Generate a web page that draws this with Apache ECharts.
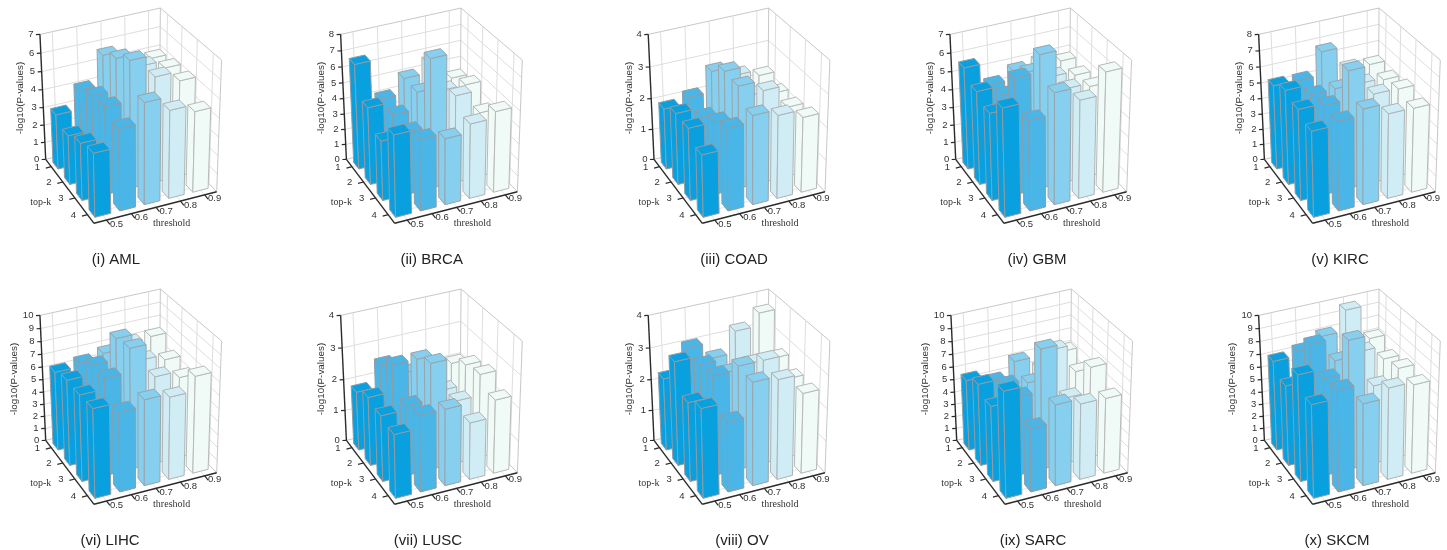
<!DOCTYPE html>
<html><head><meta charset="utf-8">
<style>html,body{margin:0;padding:0;background:#fff}#main{width:1447px;height:550px;filter:blur(0.4px)}</style>
<script src="https://cdn.jsdelivr.net/npm/echarts@6/dist/echarts.min.js"></script>
</head><body><div id="main"></div>
<script>
const thresholds = ['0.5','0.6','0.7','0.8','0.9'];
const topK = [1,2,3,4];
const panelTitles = ['(i) AML','(ii) BRCA','(iii) COAD','(iv) GBM','(v) KIRC','(vi) LIHC','(vii) LUSC','(viii) OV','(ix) SARC','(x) SKCM'];
const zMaxes = [7,8,4,7,8,10,4,4,10,10];
// each row: one top-k; each column: one threshold
const valuesAML  = [[3.1,4.16,5.75,5.0,5.0],[2.75,4.6,6.3,5.6,5.2],[3.18,4.8,6.9,5.76,5.25],[3.5,4.47,5.5,4.78,4.4]];
const valuesBRCA = [[6.69,4.18,5.14,5.75,4.47],[4.9,4.09,5.15,4.9,4.9],[3.77,3.95,8.0,5.45,4.05],[5.1,4.46,4.13,4.65,5.03]];
const valuesCOAD = [[1.96,2.15,2.79,2.5,2.32],[2.27,1.97,3.21,2.3,2.19],[2.28,2.28,3.19,2.88,2.2],[1.95,2.57,2.76,2.58,2.34]];
const valuesGBM  = [[5.67,4.45,4.92,5.08,4.86],[5.15,4.66,5.56,5.03,4.81],[4.78,6.3,7.2,5.13,4.95],[5.85,4.89,6.0,5.31,6.45]];
const valuesKIRC = [[5.38,5.35,6.79,5.43,5.33],[5.96,5.33,5.36,5.33,5.22],[5.7,5.56,7.29,5.55,5.51],[5.32,5.53,5.9,5.26,5.23]];
const valuesLIHC = [[6.29,6.56,6.9,7.27,7.37],[6.77,7.46,9.06,7.0,6.6],[6.78,7.6,9.36,6.81,6.31],[6.92,6.2,6.66,6.4,7.5]];
const valuesLUSC = [[1.89,2.57,2.15,2.0,2.1],[2.18,3.0,3.0,1.86,2.48],[2.08,2.2,3.3,1.98,2.62],[1.99,2.38,2.38,1.78,2.29]];
const valuesOV   = [[2.31,3.1,2.61,3.28,3.67],[3.27,3.0,2.59,2.7,2.69],[2.48,3.11,3.22,3.22,2.49],[2.77,2.18,3.18,3.08,2.49]];
const valuesSARC = [[5.64,5.12,6.26,5.25,6.2],[6.46,5.96,5.69,7.8,5.68],[5.91,6.15,9.31,5.2,7.09],[8.19,4.96,6.28,5.89,5.85]];
const valuesSKCM = [[7.14,7.48,8.22,9.8,7.21],[6.34,9.05,7.38,7.66,6.66],[8.28,7.53,9.95,6.12,7.01],[7.21,7.85,6.36,7.08,6.87]];
const allValues = [valuesAML,valuesBRCA,valuesCOAD,valuesGBM,valuesKIRC,valuesLIHC,valuesLUSC,valuesOV,valuesSARC,valuesSKCM];

const colors = ['#08A0DF','#4AB6E7','#86CFEE','#D0ECF4','#F0FAF6'];
const strokes = ['#8f9ca6','#8f9ca6','#9aa5ab','#b0b4b6','#b8bab8'];
const offX = [0,300.7,608.3,910,1218.7,0,300.7,608.3,911,1218.7];
const offY = [0,0,0,0,0,281,281,281,281,281];
const titleX = [116,431.7,734,1037,1340,110,428,742,1033,1337];
const titleY = [261,261,261,261,261,541.5,541.5,541.5,541.5,541.5];

// camera: base corners of the box (panel i), unit cube -> screen
const C = {L:[45.7,159.3],B:[159.3,131.7],R:[216.7,191.7],F:[94,223.3],LT:[40,31.7],BT:[159.3,10.7],RT:[222.7,60]};
function buildCamera(){
  const [x0,y0]=C.L,[x1,y1]=C.B,[x2,y2]=C.R,[x3,y3]=C.F;
  const dx1=x1-x2,dx2=x3-x2,sx=x0-x1+x2-x3,dy1=y1-y2,dy2=y3-y2,sy=y0-y1+y2-y3;
  const den=dx1*dy2-dx2*dy1;
  const g=(sx*dy2-dx2*sy)/den,h=(dx1*sy-sx*dy1)/den;
  const a=x1-x0+g*x1,b=x3-x0+h*x3,c=x0,d=y1-y0+g*y1,e=y3-y0+h*y3,f=y0;
  const rows=[];
  [[0,0,C.LT],[1,0,C.BT],[1,1,C.RT]].forEach(([u,v,p])=>{
    const hx=a*u+b*v+c,hy=d*u+e*v+f,hw=g*u+h*v+1;
    rows.push([1,0,-p[0],p[0]*hw-hx]);
    rows.push([0,1,-p[1],p[1]*hw-hy]);
  });
  // normal equations for the vertical column
  const N=[[0,0,0,0],[0,0,0,0],[0,0,0,0]];
  rows.forEach(r=>{for(let i=0;i<3;i++){for(let j=0;j<3;j++)N[i][j]+=r[i]*r[j];N[i][3]+=r[i]*r[3];}});
  for(let i=0;i<3;i++){
    let p=i;for(let k=i+1;k<3;k++)if(Math.abs(N[k][i])>Math.abs(N[p][i]))p=k;
    [N[i],N[p]]=[N[p],N[i]];
    for(let k=0;k<3;k++)if(k!==i){const m=N[k][i]/N[i][i];for(let j=i;j<4;j++)N[k][j]-=m*N[i][j];}
  }
  const z1=N[0][3]/N[0][0],z2=N[1][3]/N[1][1],z3=N[2][3]/N[2][2];
  return (u,v,z)=>{const w=g*u+h*v+1+z3*z;return [(a*u+b*v+c+z1*z)/w,(d*u+e*v+f+z2*z)/w];};
}
const cam = buildCamera();
const gridRect = {x:40,y:32,w:180,h:127};
const BAR_U=0.064, BAR_V=0.056;
const NUM_FONT='9.5px "Liberation Sans"', SERIF_FONT='10px "Liberation Serif"', AXIS_FONT='9.9px "Liberation Sans"';

function line(a,b,stroke,lw){return {type:'line',silent:true,shape:{x1:a[0],y1:a[1],x2:b[0],y2:b[1]},style:{stroke:stroke,lineWidth:lw}};}
function text(s,x,y,font,align,rot){return {type:'text',silent:true,x:x,y:y,rotation:rot||0,style:{text:s,x:0,y:0,font:font,fill:'#333',align:align||'center',verticalAlign:'middle'}};}

function wallRender(i){return function(){
  const ox=offX[i],oy=offY[i],zm=zMaxes[i];
  const P=(u,v,z)=>{const p=cam(u,v,z);return [p[0]+ox,p[1]+oy];};
  const kids=[];const G='#dedede',E='#c8c8c8',A='#2b2b2b';
  for(let t=0;t<=zm;t++){const z=t/zm;
    if(t>0){kids.push(line(P(0,0,z),P(1,0,z),t===zm?E:G,1));kids.push(line(P(1,0,z),P(1,1,z),t===zm?E:G,1));}
  }
  thresholds.forEach((_,n)=>{const u=(n+.5)/5;kids.push(line(P(u,0,0),P(u,0,1),G,1));kids.push(line(P(u,0,0),P(u,1,0),'#e6e6e6',1));});
  topK.forEach((_,n)=>{const v=(n+.5)/4;kids.push(line(P(1,v,0),P(1,v,1),G,1));kids.push(line(P(0,v,0),P(1,v,0),'#e6e6e6',1));});
  kids.push(line(P(1,0,0),P(1,0,1),E,1),line(P(1,1,0),P(1,1,1),E,1),line(P(1,0,0),P(1,1,0),E,1),line(P(0,0,0),P(1,0,0),E,1));
  // front axes and vertical axis
  kids.push(line(P(0,0,0),P(0,0,1),A,1.4),line(P(0,0,0),P(0,1,0),A,1.4),line(P(0,1,0),P(1,1,0),A,1.4));
  for(let t=0;t<=zm;t++){const p=P(0,0,t/zm);
    kids.push(line(p,[p[0]-4,p[1]+0.2],A,1.2));
    kids.push(text(String(t),p[0]-6.5,p[1],NUM_FONT,'right'));
  }
  topK.forEach((k,n)=>{const p=P(0,(n+.5)/4,0);
    kids.push(line(p,[p[0]-5.5,p[1]+1.4],A,1.2));
    kids.push(text(String(k),p[0]-14,p[1]+0.5,NUM_FONT));
  });
  thresholds.forEach((s,n)=>{const p=P((n+.5)/5,1,0);
    kids.push(line(p,[p[0]+3.4,p[1]+4.4],A,1.2));
    kids.push(text(s,p[0]+10,p[1]+4,NUM_FONT));
  });
  kids.push(text('top-k',ox+40.7,oy+202,SERIF_FONT));
  kids.push(text('threshold',ox+171.7,oy+223.3,SERIF_FONT));
  const dbl=zm>=10;
  kids.push(text('-log10(P-values)',ox+(dbl?14:20.7),oy+98,AXIS_FONT,'center',Math.PI/2));
  return {type:'group',children:kids};
};}

function barRender(i){return function(params,api){
  const ox=offX[i],oy=offY[i];
  const gx=ox+gridRect.x,gy=oy+gridRect.y;
  const t=api.value(0),val=api.value(1),k=api.value(2);
  const c=api.coord([t,val]);
  const u=(c[0]-gx)/gridRect.w, zf=(gy+gridRect.h-c[1])/gridRect.h, v=(k+.5)/topK.length;
  const P=(uu,vv,z)=>{const p=cam(uu,vv,z);return [p[0]+ox,p[1]+oy];};
  const u0=u-BAR_U,u1=u+BAR_U,v0=v-BAR_V,v1=v+BAR_V;
  const fill=colors[t],stroke=strokes[t];
  const face=pts=>({type:'polygon',shape:{points:pts},style:{fill:fill,stroke:stroke,lineWidth:1,lineJoin:'round'}});
  return {type:'group',children:[
    face([P(u0,v0,0),P(u0,v1,0),P(u0,v1,zf),P(u0,v0,zf)]),
    face([P(u0,v1,0),P(u1,v1,0),P(u1,v1,zf),P(u0,v1,zf)]),
    face([P(u0,v0,zf),P(u0,v1,zf),P(u1,v1,zf),P(u1,v0,zf)])
  ]};
};}

const grids=[],xAxes=[],yAxes=[],series=[],titles=[];
panelTitles.forEach((name,i)=>{
  grids.push({left:offX[i]+gridRect.x,top:offY[i]+gridRect.y,width:gridRect.w,height:gridRect.h,show:false});
  xAxes.push({type:'category',gridIndex:i,data:thresholds,show:false});
  yAxes.push({type:'value',gridIndex:i,min:0,max:zMaxes[i],interval:1,show:false});
  titles.push({text:name,left:titleX[i],top:titleY[i]-8.5,textAlign:'center',padding:0,
    textStyle:{fontFamily:'Liberation Sans',fontSize:15,fontWeight:'normal',color:'#222'}});
  series.push({type:'custom',name:name+' axes',coordinateSystem:'cartesian2d',xAxisIndex:i,yAxisIndex:i,silent:true,z:1,
    renderItem:wallRender(i),data:[[0,0]]});
  const rows=[];
  allValues[i].forEach((row,k)=>{for(let t=row.length-1;t>=0;t--)rows.push([t,row[t],k]);});
  series.push({type:'custom',name:name,coordinateSystem:'cartesian2d',xAxisIndex:i,yAxisIndex:i,silent:true,z:2,
    encode:{x:0,y:1},renderItem:barRender(i),data:rows});
});
const chart=echarts.init(document.getElementById('main'),null,{renderer:'canvas'});
chart.setOption({animation:false,backgroundColor:'#fff',title:titles,grid:grids,xAxis:xAxes,yAxis:yAxes,series:series});
</script></body></html>
